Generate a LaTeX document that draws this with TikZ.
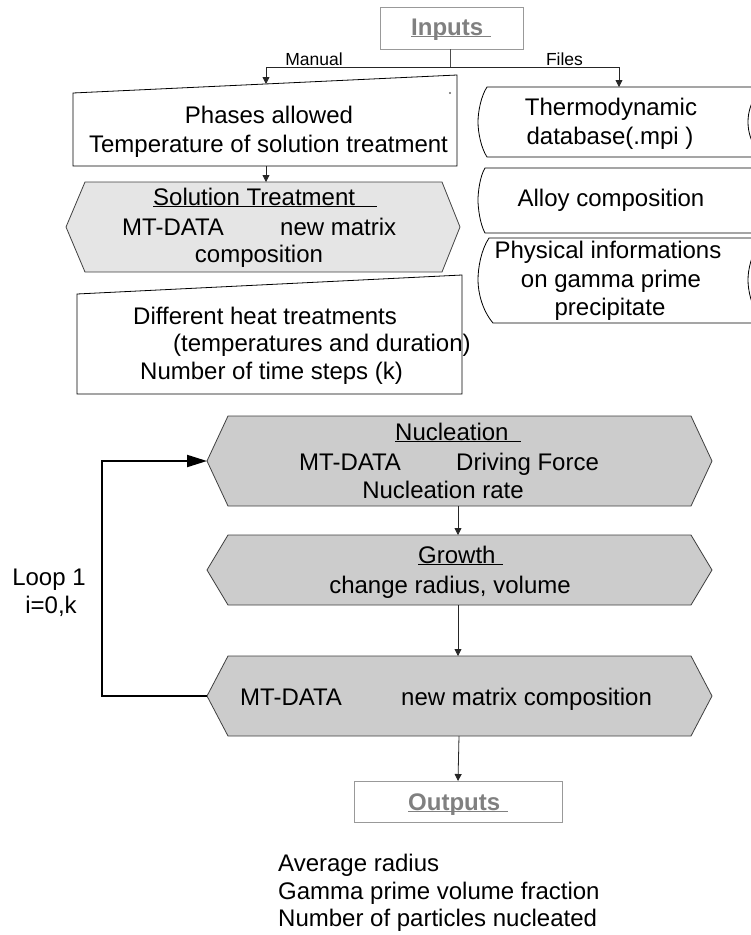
\documentclass[tikz,border=0pt]{standalone}
\usepackage{fontspec}
\setmainfont{Liberation Sans}
\usetikzlibrary{arrows.meta}
\newcommand\ulx[2]{\underline{\smash{#1}\hspace{#2}}}
\begin{document}
\begin{tikzpicture}[x=1pt,y=-1pt,
  font=\fontsize{24}{28}\selectfont,
  hexdark/.style={draw=black!75, fill=black!20, line width=0.8pt},
  hexlight/.style={draw=black!75, fill=black!10, line width=0.8pt},
  inbox/.style={draw=black, line width=0.8pt},
  iobox/.style={draw=black!40, line width=0.8pt},
  txt/.style={inner sep=0pt, anchor=base},
  txtw/.style={inner sep=0pt, anchor=base west},
  iotxt/.style={inner sep=0pt, anchor=base west, text=black!50, font=\fontsize{24}{28}\selectfont\bfseries},
  small/.style={inner sep=0pt, anchor=base, font=\fontsize{17.5}{20}\selectfont},
  arr/.style={draw=black!85, line width=0.8pt, -{Triangle[length=7pt,width=7pt]}},
  loopline/.style={draw=black, line width=2pt, -{Triangle[length=20pt,width=12pt]}}
]
\useasboundingbox (0,0) rectangle (751,935);
\clip (0,0) rectangle (751,935);

% ---------- Inputs ----------
\draw[iobox] (380,7) rectangle (523,49);
\node[iotxt] (inputs) at (411,35) {\ulx{Inputs}{8pt}};
\coordinate (inB) at (450,49);
\coordinate (jn) at (450,67);
\node[small] (manual) at (314,65) {Manual};
\node[small] (files) at (564.5,65) {Files};

% ---------- Manual input 1 ----------
\draw[inbox] (73,93) -- (457,75) -- (457,166) -- (73,166) -- cycle;
\fill[black!60] (450,93) circle (1.1);
\node[txt] (phases) at (269,123) {Phases allowed};
\node[txt] (temp) at (268.5,152) {Temperature of solution treatment};
\coordinate (man1T) at (266,84);
\coordinate (man1B) at (266,166);

% ---------- Solution treatment ----------
\draw[hexlight] (66,227) -- (85,182) -- (442,182) -- (460,227) -- (442,272) -- (85,272) -- cycle;
\node[txtw] (soltitle) at (153,205) {\ulx{Solution Treatment}{22pt}};
\node[txtw] (solmt) at (122,235) {MT-DATA};
\node[txtw] (solnew) at (280,235) {new matrix};
\node[txt] (solcomp) at (259,262) {composition};
\coordinate (solT) at (266,182);

% ---------- Manual input 2 ----------
\draw[inbox] (77,294) -- (462,275) -- (462,394) -- (77,394) -- cycle;
\node[txtw] (heat1) at (133,324) {Different heat treatments};
\node[txtw] (heat2) at (173,351) {(temperatures and duration)};
\node[txtw] (heat3) at (140,379) {Number of time steps (k)};

% ---------- Files (stored data shapes) ----------
\draw[inbox] (487,87) -- (762,87) .. controls (751,100) and (748,112) .. (748,122)
  .. controls (748,132) and (751,144) .. (762,157) -- (487,157)
  .. controls (481,148) and (478,132) .. (478,122)
  .. controls (478,112) and (481,96) .. (487,87) -- cycle;
\draw[inbox] (485,168) -- (768,168) .. controls (757,180) and (754,192) .. (754,200)
  .. controls (754,208) and (757,220) .. (768,233) -- (485,233)
  .. controls (480,224) and (478,208) .. (478,200)
  .. controls (478,192) and (480,176) .. (485,168) -- cycle;
\draw[inbox] (489,238) -- (762,238) .. controls (751,254) and (748,270) .. (748,280)
  .. controls (748,290) and (751,306) .. (762,323) -- (493,323)
  .. controls (482,310) and (478,292) .. (478,280)
  .. controls (478,268) and (481,250) .. (489,238) -- cycle;
\node[txt] (thermo1) at (611,115) {Thermodynamic};
\node[txt] (thermo2) at (610,144) {database(.mpi )};
\node[txt] (alloy) at (611,206) {Alloy composition};
\node[txt] (phys1) at (608,258) {Physical informations};
\node[txt] (phys2) at (611,287) {on gamma prime};
\node[txt] (phys3) at (610,315) {precipitate};
\coordinate (fileT) at (619,87);

% ---------- Nucleation ----------
\draw[hexdark] (207,461) -- (228,416) -- (691,416) -- (712,461) -- (691,506) -- (228,506) -- cycle;
\node[txtw] (nuctitle) at (395,440) {\ulx{Nucleation}{12pt}};
\node[txtw] (nucmt) at (299,470) {MT-DATA};
\node[txtw] (nucdf) at (456,470) {Driving Force};
\node[txt] (nucrate) at (443,498) {Nucleation rate};
\coordinate (nucL) at (207,461);
\coordinate (nucB) at (458,506);

% ---------- Growth ----------
\draw[hexdark] (207,570) -- (228,535) -- (691,535) -- (712,570) -- (691,605) -- (228,605) -- cycle;
\node[txtw] (grotitle) at (418,563) {\ulx{Growth}{7pt}};
\node[txt] (grochg) at (450,593) {change radius, volume};
\coordinate (groT) at (458,535);
\coordinate (groB) at (458,605);

% ---------- Matrix composition ----------
\draw[hexdark] (207,696) -- (228,656) -- (691,656) -- (712,696) -- (691,736) -- (228,736) -- cycle;
\node[txtw] (matmt) at (240,705) {MT-DATA};
\node[txtw] (matnew) at (401,705) {new matrix composition};
\coordinate (matT) at (458,656);
\coordinate (matB) at (459,736);
\coordinate (matL) at (207,696);
\coordinate (loopC) at (102,696);

% ---------- Loop label ----------
\node[txt] (loop1) at (49,585) {Loop 1};
\node[txt] (loop2) at (51,613) {i=0,k};

% ---------- Outputs ----------
\draw[iobox] (354,781) rectangle (562,822);
\node[iotxt] (outputs) at (408,810) {\ulx{Outputs}{8pt}};
\coordinate (outT) at (458,781);
\node[txtw] (res1) at (278,871) {Average radius};
\node[txtw] (res2) at (278,899) {Gamma prime volume fraction};
\node[txtw] (res3) at (278,926) {Number of particles nucleated};

% ---------- Connectors ----------
\draw[draw=black!70, line width=0.8pt] (inB) -- (jn);
\draw[arr] (jn) -| (man1T);
\draw[arr] (jn) -| (fileT);
\draw[arr] (man1B) -- (solT);
\draw[arr] (nucB) -- (groT);
\draw[arr] (groB) -- (matT);
\draw[arr] (matB) -- (outT);
\draw[loopline] (matL) -- (loopC) |- (nucL);
\end{tikzpicture}
\end{document}
